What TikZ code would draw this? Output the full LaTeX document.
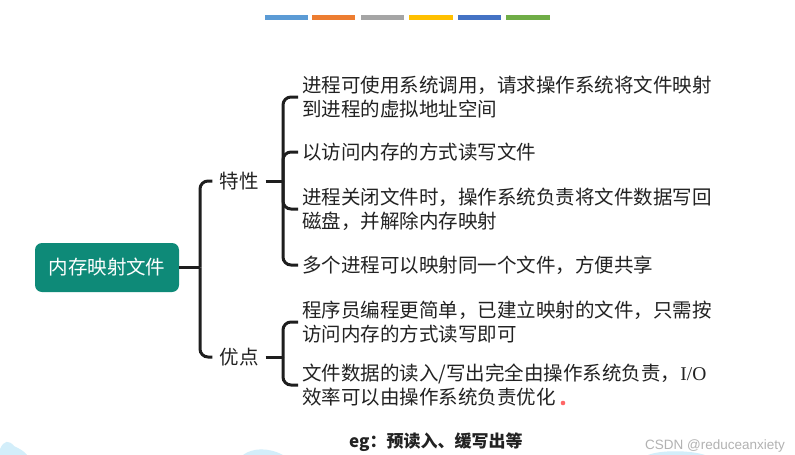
\documentclass[tikz,border=0pt]{standalone}
\usepackage{fontspec}
\setmainfont{Noto Sans CJK SC}
\newfontfamily\wmfont{Liberation Sans}
\newfontfamily\serl{Liberation Serif}
\definecolor{teal1}{HTML}{0E8A78}
\definecolor{ink}{HTML}{1E1E1E}
\definecolor{txt}{HTML}{222222}
\definecolor{barA}{HTML}{5B9BD5}
\definecolor{barB}{HTML}{ED7D31}
\definecolor{barC}{HTML}{A5A5A5}
\definecolor{barD}{HTML}{FFC000}
\definecolor{barE}{HTML}{4472C4}
\definecolor{barF}{HTML}{70AD47}
\definecolor{blob}{HTML}{D3EEFA}
\begin{document}
\begin{tikzpicture}[x=1pt,y=-1pt,
  conn/.style={draw=ink,line width=3pt,rounded corners=8pt},
  item/.style={anchor=west,align=left,inner xsep=4pt,inner ysep=0pt,text=txt,font=\fontsize{19.5}{24}\selectfont},
  cat/.style={inner xsep=7pt,inner ysep=2pt,text=txt,font=\fontsize{19.5}{24}\selectfont},
  rootbox/.style={fill=teal1,rounded corners=7pt,text=white,minimum width=144pt,minimum height=49pt,font=\fontsize{19.5}{24}\selectfont}]
\useasboundingbox (0,0) rectangle (795,455);
\fill[white] (0,0) rectangle (795,455);
% top bars
\foreach \a/\b/\c in {265/308/barA,312/355/barB,361/404/barC,409/453/barD,458/501/barE,506/550/barF}
  \fill[\c] (\a,15) rectangle (\b,19.5);
% background blobs
\fill[blob] (0,455) -- (0,449) .. controls (4,440) and (9,440) .. (14,446) .. controls (20,449) and (24,451) .. (27,455) -- cycle;
\fill[blob] (243,455) .. controls (252,448) and (268,447) .. (283,455) -- cycle;
\fill[blob] (648,455) .. controls (660,450) and (690,450) .. (705,455) -- cycle;
% root
\node[rootbox] (root) at (107,267.5) {内存映射文件};
\node[cat] (tx) at (239,181) {特性};
\node[cat] (yd) at (239,357) {优点};
\coordinate (m) at (200,267.5);
\coordinate (s1) at (283,181);
\coordinate (s2) at (283,357);
% items
\node[item] (i1) at (298,97) {进程可使用系统调用，请求操作系统将文件映射\\到进程的虚拟地址空间};
\node[item] (i2) at (298,152) {以访问内存的方式读写文件};
\node[item] (i3) at (298,209) {进程关闭文件时，操作系统负责将文件数据写回\\磁盘，并解除内存映射};
\node[item] (i4) at (298,265) {多个进程可以映射同一个文件，方便共享};
\node[item] (j1) at (298,322) {程序员编程更简单，已建立映射的文件，只需按\\访问内存的方式读写即可};
\node[item] (j2) at (298,385) {文件数据的读入/写出完全由操作系统负责，{\serl I/O}\\效率可以由操作系统负责优化};
% connectors
\draw[conn] (root.east) -- (m);
\draw[conn] (m) |- (tx.west);
\draw[conn] (m) |- (yd.west);
\draw[conn] (tx.east) -- (s1);
\draw[conn] (yd.east) -- (s2);
\foreach \n in {i1,i2,i3,i4} \draw[conn] (s1) |- (\n.west);
\foreach \n in {j1,j2} \draw[conn] (s2) |- (\n.west);
% red dot
\fill[red!75!white,opacity=0.8] (563,403) circle (2.3pt);
% bottom text
\node[anchor=west,inner sep=0pt,text=txt,font=\fontsize{17}{20}\selectfont\bfseries] (eg) at (349,442) {eg：预读入、缓写出等};
\node[anchor=west,inner sep=0pt,text=black!30,font=\wmfont\fontsize{13.5}{16}\selectfont] (wm) at (645,446) {CSDN @reduceanxiety};
\end{tikzpicture}
\end{document}
